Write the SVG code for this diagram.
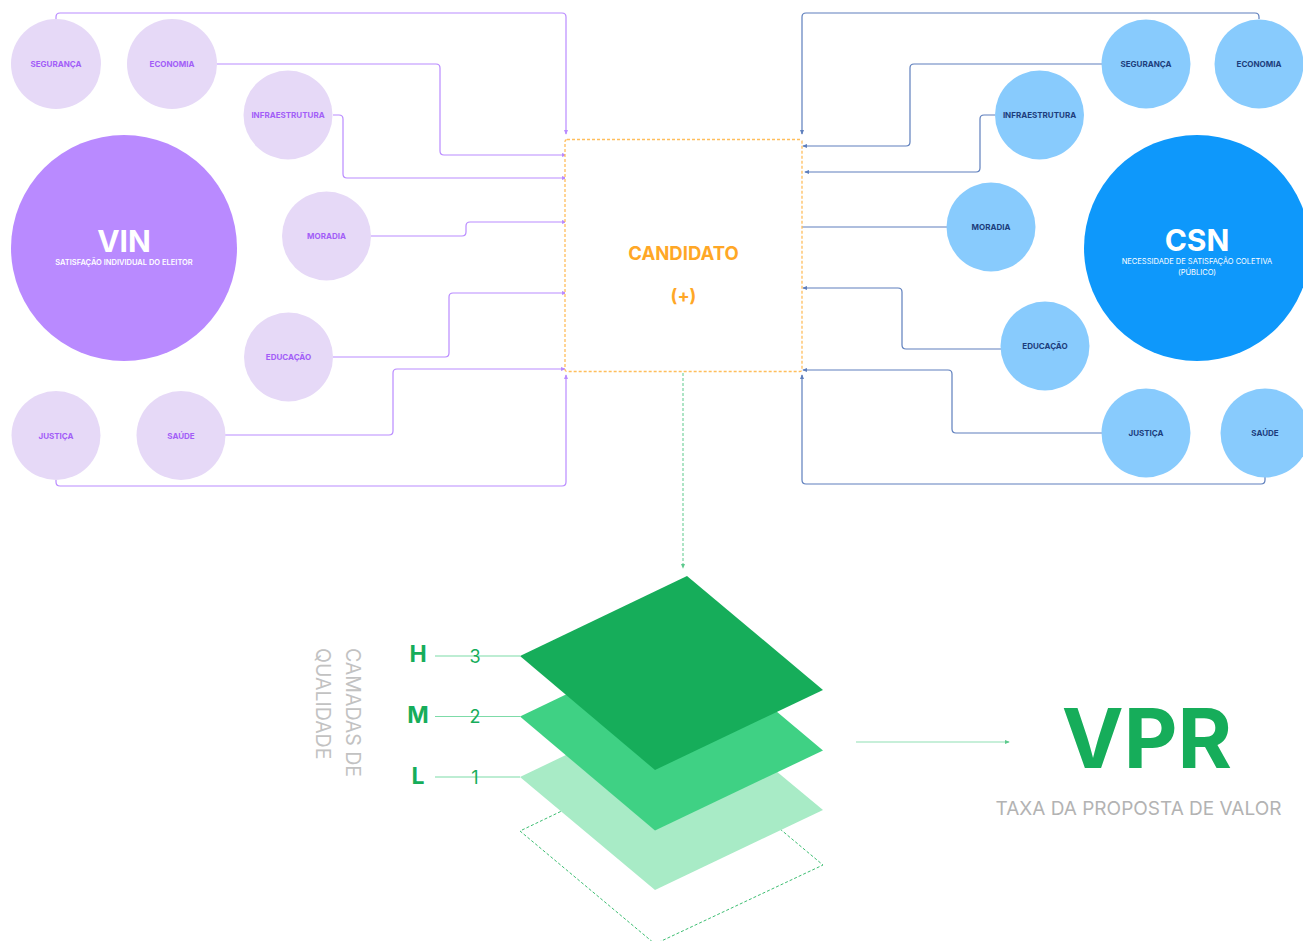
<svg xmlns="http://www.w3.org/2000/svg" width="1303" height="941" viewBox="0 0 1303 941">
  <style>
    .lbl { font-family: Inter, "Liberation Sans", sans-serif; font-size: 8px; font-weight: 700; text-anchor: middle; dominant-baseline: central; }
    .vin-s { fill: #E6D9F7; }
    .vin-t { fill: #A25EF7; }
    .csn-s { fill: #88CBFD; }
    .csn-t { fill: #1C3D7C; }
    .cv { fill: none; stroke: #B98BFF; stroke-width: 1.2; }
    .cc { fill: none; stroke: #5E7FBD; stroke-width: 1.2; }
    .big { font-family: Inter, "Liberation Sans", sans-serif; font-weight: 700; fill: #FFFFFF; text-anchor: middle; }
    .sub { font-family: Inter, "Liberation Sans", sans-serif; font-size: 7.5px; fill: #FFFFFF; text-anchor: middle; }
    .layer-lbl { font-family: Inter, "Liberation Sans", sans-serif; font-size: 23px; font-weight: 700; fill: #16AD5A; text-anchor: middle; }
    .layer-num { font-family: Inter, "Liberation Sans", sans-serif; font-size: 18px; fill: #16AD5A; text-anchor: middle; }
    .lead { stroke: #7DDBA8; stroke-width: 1.2; }
  </style>
  <defs>
    <marker id="arrV" viewBox="0 0 6 6" refX="5" refY="3" markerWidth="5" markerHeight="5" markerUnits="userSpaceOnUse" orient="auto">
      <path d="M0,0.5 L6,3 L0,5.5 Z" fill="#B98BFF"/>
    </marker>
    <marker id="arrC" viewBox="0 0 6 6" refX="5" refY="3" markerWidth="5" markerHeight="5" markerUnits="userSpaceOnUse" orient="auto">
      <path d="M0,0.5 L6,3 L0,5.5 Z" fill="#5E7FBD"/>
    </marker>
    <marker id="arrG" viewBox="0 0 6 6" refX="5" refY="3" markerWidth="5" markerHeight="5" markerUnits="userSpaceOnUse" orient="auto">
      <path d="M0,0.5 L6,3 L0,5.5 Z" fill="#5CC98C"/>
    </marker>
  </defs>

  <rect width="1303" height="941" fill="#FFFFFF"/>

  <!-- connectors -->
  <g id="connectors">
    <g class="cv">
      <path d="M56,19 V17 Q56,13 60,13 H562 Q566,13 566,17 V134" marker-end="url(#arrV)"/>
      <path d="M217,64 H436 Q440,64 440,68 V151 Q440,155 444,155 H566" marker-end="url(#arrV)"/>
      <path d="M333,115 H339 Q343,115 343,119 V174 Q343,178 347,178 H566" marker-end="url(#arrV)"/>
      <path d="M371,236 H462 Q466,236 466,232 V226 Q466,222 470,222 H566" marker-end="url(#arrV)"/>
      <path d="M333,357 H445 Q449,357 449,353 V297 Q449,293 453,293 H566" marker-end="url(#arrV)"/>
      <path d="M225,435 H389 Q393,435 393,431 V373 Q393,369 397,369 H565" marker-end="url(#arrV)"/>
      <path d="M56,480 V482 Q56,486 60,486 H562 Q566,486 566,482 V375" marker-end="url(#arrV)"/>
    </g>
    <g class="cc">
      <path d="M1259,19 V17 Q1259,13 1255,13 H806 Q802,13 802,17 V134" marker-end="url(#arrC)"/>
      <path d="M1102,64 H914 Q910,64 910,68 V142 Q910,146 906,146 H803" marker-end="url(#arrC)"/>
      <path d="M995,115 H984 Q980,115 980,119 V168 Q980,172 976,172 H805" marker-end="url(#arrC)"/>
      <path d="M947,227 H802"/>
      <path d="M1001,349 H906 Q902,349 902,345 V292 Q902,288 898,288 H803" marker-end="url(#arrC)"/>
      <path d="M1102,433 H956 Q952,433 952,429 V374 Q952,370 948,370 H803" marker-end="url(#arrC)"/>
      <path d="M1265,477 V480 Q1265,484 1261,484 H806 Q802,484 802,480 V375" marker-end="url(#arrC)"/>
    </g>
    <path d="M683,373 V568" fill="none" stroke="#5CC98C" stroke-width="1" stroke-dasharray="3,2" marker-end="url(#arrG)"/>
    <path d="M856,742 H1009" fill="none" stroke="#8FE0B3" stroke-width="1.2" marker-end="url(#arrG)"/>
    <line class="lead" x1="435" y1="656" x2="520" y2="656"/>
    <line class="lead" x1="435" y1="716.5" x2="520" y2="716.5"/>
    <line class="lead" x1="435" y1="777" x2="520" y2="777"/>
  </g>

  <!-- VIN side -->
  <g id="vin">
    <circle cx="124" cy="248" r="113" fill="#B98AFF"/>
    <text class="big" x="124" y="252" font-size="30">VIN</text>
    <text class="sub" x="124" y="264.5" font-weight="600">SATISFAÇÃO INDIVIDUAL DO ELEITOR</text>
  </g>
  <g id="vin-seguranca"><circle class="vin-s" cx="56" cy="64" r="45"/><text class="lbl vin-t" x="56" y="64">SEGURANÇA</text></g>
  <g id="vin-economia"><circle class="vin-s" cx="172" cy="64" r="45"/><text class="lbl vin-t" x="172" y="64">ECONOMIA</text></g>
  <g id="vin-infraestrutura"><circle class="vin-s" cx="288" cy="115" r="44.5"/><text class="lbl vin-t" x="288" y="115">INFRAESTRUTURA</text></g>
  <g id="vin-moradia"><circle class="vin-s" cx="326.5" cy="236" r="44.5"/><text class="lbl vin-t" x="326.5" y="236">MORADIA</text></g>
  <g id="vin-educacao"><circle class="vin-s" cx="288.5" cy="357" r="44.5"/><text class="lbl vin-t" x="288.5" y="357">EDUCAÇÃO</text></g>
  <g id="vin-justica"><circle class="vin-s" cx="56" cy="435.5" r="44.5"/><text class="lbl vin-t" x="56" y="435.5">JUSTIÇA</text></g>
  <g id="vin-saude"><circle class="vin-s" cx="181" cy="435.5" r="44.5"/><text class="lbl vin-t" x="181" y="435.5">SAÚDE</text></g>

  <!-- CSN side -->
  <g id="csn">
    <circle cx="1197" cy="248" r="113" fill="#0E98FB"/>
    <text class="big" x="1197" y="251" font-size="30">CSN</text>
    <text class="sub" x="1197" y="263.5">NECESSIDADE DE SATISFAÇÃO COLETIVA</text>
    <text class="sub" x="1197" y="275">(PÚBLICO)</text>
  </g>
  <g id="csn-seguranca"><circle class="csn-s" cx="1146" cy="64" r="44.5"/><text class="lbl csn-t" x="1146" y="64">SEGURANÇA</text></g>
  <g id="csn-economia"><circle class="csn-s" cx="1259" cy="64" r="44.5"/><text class="lbl csn-t" x="1259" y="64">ECONOMIA</text></g>
  <g id="csn-infraestrutura"><circle class="csn-s" cx="1039.5" cy="115" r="44.5"/><text class="lbl csn-t" x="1039.5" y="115">INFRAESTRUTURA</text></g>
  <g id="csn-moradia"><circle class="csn-s" cx="991" cy="227" r="44.5"/><text class="lbl csn-t" x="991" y="227">MORADIA</text></g>
  <g id="csn-educacao"><circle class="csn-s" cx="1045" cy="346" r="44.5"/><text class="lbl csn-t" x="1045" y="346">EDUCAÇÃO</text></g>
  <g id="csn-justica"><circle class="csn-s" cx="1146" cy="433" r="44.5"/><text class="lbl csn-t" x="1146" y="433">JUSTIÇA</text></g>
  <g id="csn-saude"><circle class="csn-s" cx="1265" cy="433" r="44.5"/><text class="lbl csn-t" x="1265" y="433">SAÚDE</text></g>

  <!-- candidate -->
  <g id="candidato">
    <rect x="565" y="139.5" width="237" height="232" rx="2" fill="#FFFFFF" stroke="#FFBE5C" stroke-width="1.3" stroke-dasharray="3,2"/>
    <text x="683.5" y="259.5" font-family="Inter, 'Liberation Sans', sans-serif" font-size="18.5" font-weight="700" fill="#FFA726" text-anchor="middle">CANDIDATO</text>
    <text x="683.5" y="302" font-family="Inter, 'Liberation Sans', sans-serif" font-size="18" font-weight="700" fill="#FFA726" text-anchor="middle">(+)</text>
  </g>

  <!-- quality layers -->
  <g id="camadas">
    <polygon points="687,751 520,831 655,944 823,865" fill="none" stroke="#3DBE72" stroke-width="1" stroke-dasharray="3,2"/>
    <polygon points="687,697 520,777 655,890 823,810" fill="#A8EBC6"/>
    <polygon points="687,636.5 520,716.5 655,830.5 823,750.5" fill="#3FD184"/>
    <polygon points="687,576 520,656 655,770 823,690" fill="#16AD5A"/>
  </g>
  <g id="layer-labels">
    <text class="layer-lbl" x="418" y="662">H</text>
    <text class="layer-lbl" x="418" y="723">M</text>
    <text class="layer-lbl" x="418" y="784">L</text>
    <text class="layer-num" x="475" y="662.5">3</text>
    <text class="layer-num" x="475" y="723">2</text>
    <text class="layer-num" x="475" y="783.5">1</text>
  </g>
  <g id="camadas-title">
    <text transform="translate(346,648) rotate(90)" font-family="Inter, 'Liberation Sans', sans-serif" font-size="19.5" font-weight="400" fill="#C2C2C2">
      <tspan x="0" y="0">CAMADAS DE</tspan>
      <tspan x="0" y="30">QUALIDADE</tspan>
    </text>
  </g>

  <!-- value proposition -->
  <g id="vpr">
    <text x="1147" y="768" font-family="Inter, 'Liberation Sans', sans-serif" font-size="83" font-weight="700" fill="#16AD5A" text-anchor="middle">VPR</text>
    <text x="1138.5" y="815" font-family="Inter, 'Liberation Sans', sans-serif" font-size="19" fill="#B3B3B3" text-anchor="middle">TAXA DA PROPOSTA DE VALOR</text>
  </g>
</svg>
